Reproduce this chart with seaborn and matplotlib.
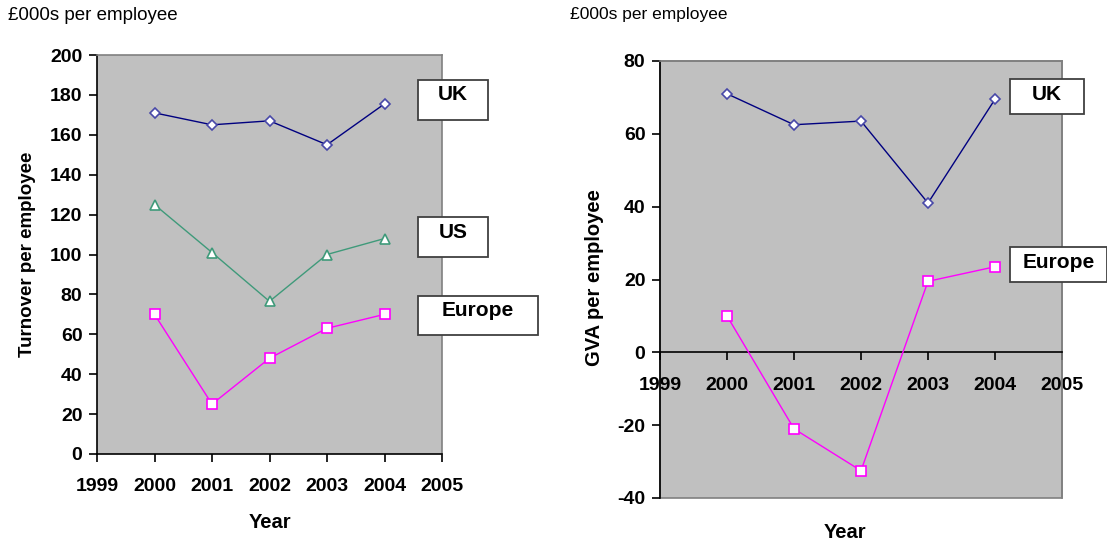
import pandas as pd
import matplotlib
matplotlib.use("Agg")
import matplotlib.pyplot as plt
import seaborn as sns
from matplotlib.patches import Rectangle

# data
years = [2000, 2001, 2002, 2003, 2004]
turnover_uk = [171, 165, 167, 155, 175.5]
turnover_us = [125, 101, 76.5, 100, 108]
turnover_europe = [70, 25, 48, 63, 70]
gva_uk = [71, 62.5, 63.5, 41, 69.5]
gva_europe = [10, -21, -32.5, 19.5, 23.5]

year_ticks = [1999, 2000, 2001, 2002, 2003, 2004, 2005]
turnover_ticks = [0, 20, 40, 60, 80, 100, 120, 140, 160, 180, 200]
gva_ticks = [-40, -20, 0, 20, 40, 60, 80]

sns.set_style("white")
plt.rcParams['font.family'] = ['Liberation Sans', 'DejaVu Sans']
plt.rcParams['axes.unicode_minus'] = False
plt.rcParams['text.color'] = 'black'
plt.rcParams['axes.labelcolor'] = 'black'
plt.rcParams['xtick.color'] = 'black'
plt.rcParams['ytick.color'] = 'black'

W, H = 1107, 544
fig = plt.figure(figsize=(W / 100, H / 100), dpi=100)


def px_axes(x0, y0, x1, y1):
    # pixel box (top-left origin) -> figure axes
    return fig.add_axes([x0 / W, 1 - y1 / H, (x1 - x0) / W, (y1 - y0) / H])


def fig_text(x, y, s, **kw):
    fig.text(x / W, 1 - y / H, s, color='black', **kw)


def label_box(x0, y0, x1, y1, text):
    fig.add_artist(Rectangle((x0 / W, 1 - y1 / H), (x1 - x0) / W, (y1 - y0) / H,
                             transform=fig.transFigure, facecolor='white',
                             edgecolor='#404040', lw=1.3, zorder=5))
    fig_text((x0 + x1) / 2, y0 + 15, text, ha='center', va='center',
             fontsize=15, fontweight='bold', zorder=6)


styles = {
    'UK': dict(color='#000080', marker='D', markersize=5.5, mec='#4848a8'),
    'US': dict(color='#3f9a7a', marker='^', markersize=7, mec='#3f9a7a'),
    'Europe': dict(color='#ff00ff', marker='s', markersize=7, mec='#ff00ff'),
}


def draw_series(ax, values, name):
    st = styles[name]
    sns.lineplot(x=years, y=values, ax=ax, color=st['color'], lw=1,
                 marker=st['marker'], markersize=st['markersize'],
                 markerfacecolor='white', markeredgecolor=st['mec'],
                 markeredgewidth=1.2, zorder=3)


def style_axes(ax, yticks):
    ax.set_facecolor('#c0c0c0')
    ax.set_xlim(1999, 2005)
    ax.set_ylim(yticks[0], yticks[-1])
    ax.set_xticks(year_ticks)
    ax.set_yticks(yticks)
    for s in ['top', 'right']:
        ax.spines[s].set_color('#808080')
        ax.spines[s].set_linewidth(1.2)
    for s in ['left', 'bottom']:
        ax.spines[s].set_color('black')
        ax.spines[s].set_linewidth(1.2)
    ax.tick_params(axis='y', direction='out', length=5.5, width=1.2, pad=5,
                   labelsize=14, left=True, color='black', labelcolor='black')
    ax.set_ylabel('')
    ax.set_xlabel('')


def finish_xticks(ax):
    ax.tick_params(axis='x', direction='out', length=5.5, width=1.2, pad=12,
                   labelsize=14, bottom=True, color='black', labelcolor='black')
    for lab in ax.get_xticklabels() + ax.get_yticklabels():
        lab.set_fontweight('bold')


# left chart: turnover
ax1 = px_axes(97, 55, 442, 454)
draw_series(ax1, turnover_uk, 'UK')
draw_series(ax1, turnover_us, 'US')
draw_series(ax1, turnover_europe, 'Europe')
style_axes(ax1, turnover_ticks)
finish_xticks(ax1)
fig_text(28, 254, 'Turnover per employee', rotation=90, ha='center', va='center',
         fontsize=13.5, fontweight='bold')
fig_text(270, 522, 'Year', ha='center', va='center', fontsize=14.5, fontweight='bold')
fig_text(8, 15, '£000s per employee', ha='left', va='center', fontsize=13.5)

# right chart: GVA, x axis crosses at zero
ax2 = px_axes(660, 61, 1062, 498)
draw_series(ax2, gva_uk, 'UK')
draw_series(ax2, gva_europe, 'Europe')
style_axes(ax2, gva_ticks)
ax2.spines['bottom'].set_position(('data', 0))
finish_xticks(ax2)
ax2.add_patch(Rectangle((0, 0), 1, 1, transform=ax2.transAxes, fill=False,
                        edgecolor='#808080', lw=1.2, zorder=0.5, clip_on=False))
fig_text(595, 278, 'GVA per employee', rotation=90, ha='center', va='center',
         fontsize=14.5, fontweight='bold')
fig_text(845, 533, 'Year', ha='center', va='center', fontsize=14.5, fontweight='bold')
fig_text(570, 14, '£000s per employee', ha='left', va='center', fontsize=12.5)

# series name boxes
label_box(418, 80, 488, 120, 'UK')
label_box(418, 217, 488, 257, 'US')
label_box(418, 296, 538, 335, 'Europe')
label_box(1010, 79, 1084, 114, 'UK')
label_box(1010, 247, 1107, 282, 'Europe')

fig.savefig('out.png', dpi=100)
